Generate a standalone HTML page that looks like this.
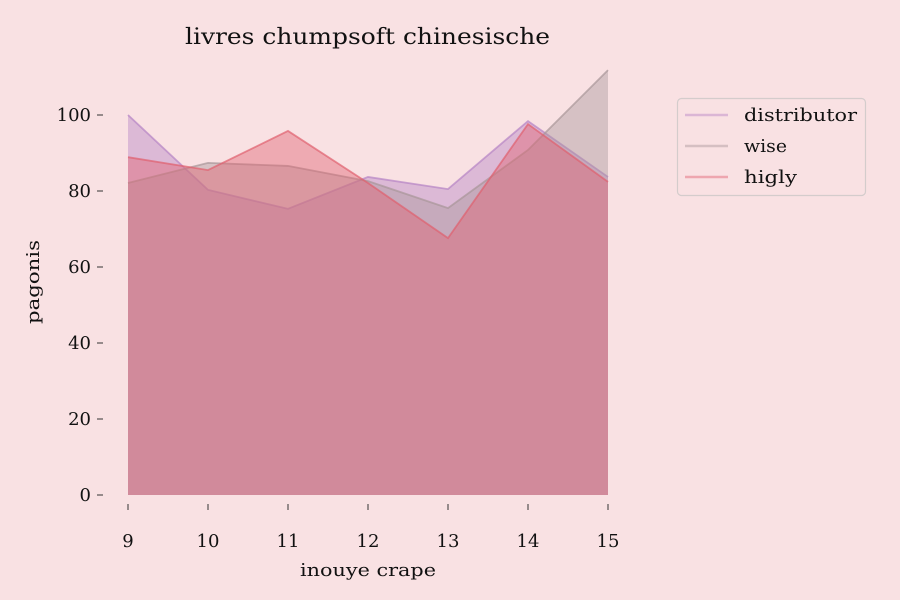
<!DOCTYPE html>
<html><head><meta charset="utf-8"><style>
body{margin:0;background:#f9e1e3;}
svg{display:block;font-family:"DejaVu Serif","Liberation Serif",serif;}
</style></head><body>
<svg id="c" width="900" height="600">
<rect width="900" height="600" fill="#f9e1e3"/>
<text x="185" y="44" font-size="22" textLength="365" lengthAdjust="spacingAndGlyphs" fill="#111">livres chumpsoft chinesische</text>
<text x="300" y="576" font-size="18" textLength="136" lengthAdjust="spacingAndGlyphs" fill="#111">inouye crape</text>
<text transform="translate(39,324) rotate(-90)" font-size="18" textLength="84" lengthAdjust="spacingAndGlyphs" fill="#111">pagonis</text>
<g id="areas"></g><g id="axes"></g>
<g>
<rect x="677.5" y="98.5" width="188" height="97" rx="4" fill="#f9e1e3" stroke="#d4cccc" stroke-width="1.2"/>
<g id="leg"></g>
</g>
</svg>
<script>
const categories=[9,10,11,12,13,14,15];
const seriesNames=["distributor","wise","higly"];
const distributor=[100,80.3,75.3,83.7,80.5,98.4,83.7];
const wise=[82.1,87.4,86.6,82.6,75.5,90.8,111.8];
const higly=[88.9,85.5,95.8,82.1,67.6,97.6,82.4];
const yTicks=[0,20,40,60,80,100];
const colors=["#b583c4","#a89698","#e0606e"];
const legW=[113,43,53];
const NS="http://www.w3.org/2000/svg";
const x=v=>128+(v-9)*80, y=v=>495-v*3.8;
function mk(t,a,p){const e=document.createElementNS(NS,t);for(const k in a)e.setAttribute(k,a[k]);p.appendChild(e);return e;}
const areas=document.getElementById('areas');
[distributor,wise,higly].forEach((s,i)=>{
 let d=`M${x(categories[0])},${y(0)} `+s.map((v,j)=>`L${x(categories[j])},${y(v)}`).join(' ')+` L${x(categories[categories.length-1])},${y(0)} Z`;
 const a=mk('path',{d:d,fill:colors[i],'fill-opacity':0.42},areas);
 
 
 const l=mk('polyline',{points:s.map((v,j)=>x(categories[j])+','+y(v)).join(' '),fill:'none',stroke:colors[i],'stroke-opacity':0.7,'stroke-width':1.8},areas);
 
 
});
const ax=document.getElementById('axes');
yTicks.forEach(t=>{
 mk('line',{x1:97,x2:103,y1:y(t),y2:y(t),stroke:'#333'},ax);
 const tx=mk('text',{x:91,y:y(t)+6,'font-size':18,'text-anchor':'end',fill:'#111'},ax);tx.textContent=t;
 
 
});
categories.forEach(c=>{
 mk('line',{x1:x(c),x2:x(c),y1:504,y2:510,stroke:'#333'},ax);
 const tx=mk('text',{x:x(c),y:547,'font-size':18,'text-anchor':'middle',fill:'#111'},ax);tx.textContent=c;
 
 
});
const leg=document.getElementById('leg');
seriesNames.forEach((n,i)=>{
 const yy=115+i*31;
 mk('line',{x1:685,x2:728,y1:yy,y2:yy,stroke:colors[i],'stroke-opacity':0.45,'stroke-width':2.5},leg);
 const tx=mk('text',{x:744,y:yy+6,'font-size':18,fill:'#111',textLength:legW[i],lengthAdjust:'spacingAndGlyphs'},leg);tx.textContent=n;
 
 
});
</script>
</body></html>
